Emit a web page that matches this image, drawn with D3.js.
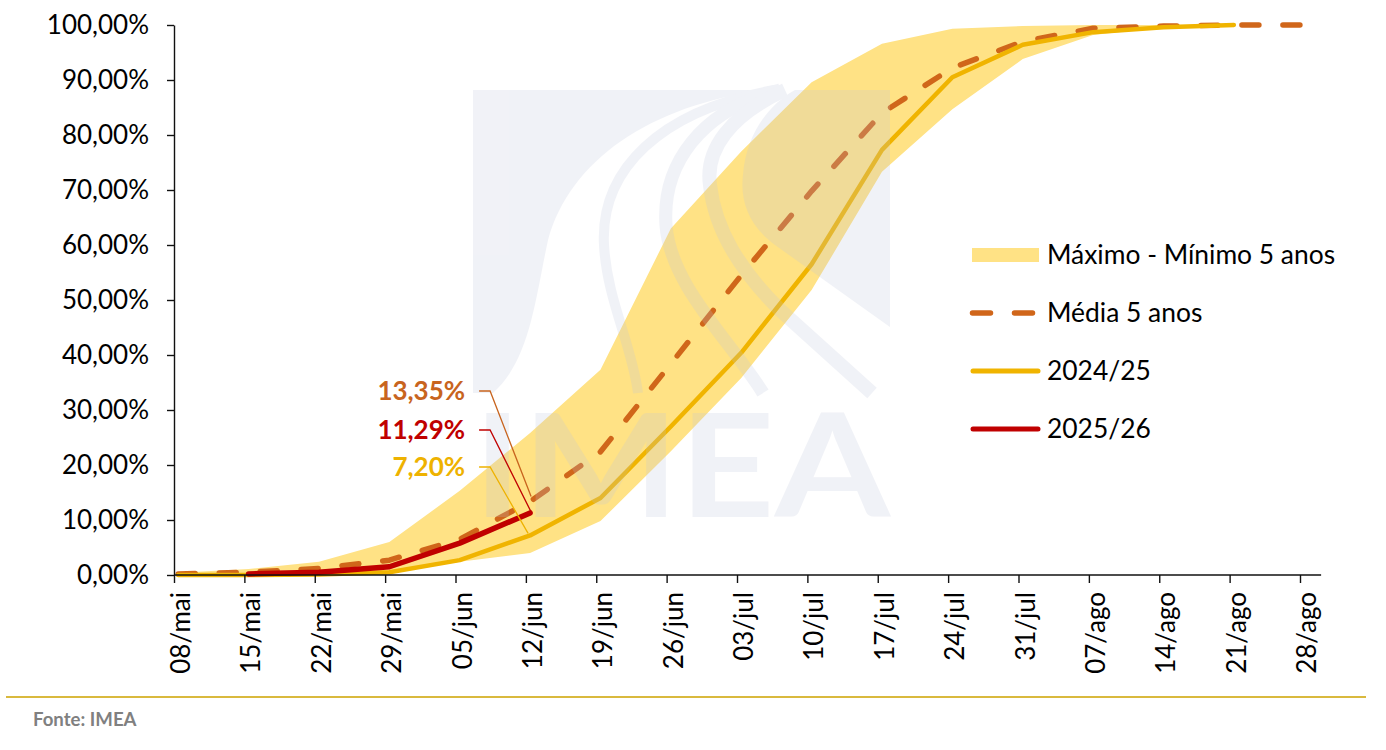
<!DOCTYPE html>
<html>
<head>
<meta charset="utf-8">
<script src="https://cdn.jsdelivr.net/npm/d3@7"></script>
<style>
  body { margin: 0; background: #fff; }
  svg { display: block; font-family: Lato, "Open Sans", sans-serif; }
</style>
</head>
<body>
<svg id="chart" width="1386" height="750"></svg>
<script>
// semanas
const categories = ['08/mai','15/mai','22/mai','29/mai','05/jun','12/jun','19/jun','26/jun',
  '03/jul','10/jul','17/jul','24/jul','31/jul','07/ago','14/ago','21/ago','28/ago'];

// faixa max - min 5 anos (ate 21/ago)
const bandMax = [0.4, 1.1, 2.4, 6.0, 15.3, 25.8, 37.3, 63.0, 77.0, 89.6, 96.6, 99.3, 99.8, 100, 100, 100];
const bandMin = [0, 0, 0, 0.3, 2.4, 4.0, 9.8, 22.5, 35.8, 51.8, 73.3, 84.7, 93.8, 98.2, 99.6, 100];

const media5 = [0.2, 0.5, 1.2, 2.7, 6.5, 13.35, 22.4, 38.4, 54.5, 69.8, 84.0, 92.2, 97.0, 99.4, 99.8, 100, 100];
const s2024 = [0, 0, 0.1, 0.5, 2.7, 7.20, 14.0, 27.0, 40.4, 56.5, 77.3, 90.5, 96.4, 98.7, 99.6, 100];
const s2025 = [null, 0.2, 0.5, 1.5, 5.8, 11.29];

const yTicks = [0, 10, 20, 30, 40, 50, 60, 70, 80, 90, 100];

const legendLabels = ['Máximo - Mínimo 5 anos', 'Média 5 anos', '2024/25', '2025/26'];
const colors = {band: '#FFE285', media: '#D0661A', s2024: '#F0B400', s2025: '#C00000'};

const svg = d3.select('#chart');
const x = d3.scalePoint().domain(categories).range([174, 1300]);
const y = d3.scaleLinear().domain([0, 100]).range([575, 25]);
// os pontos ficam meio dia a direita do tick (eixo de datas)
const xd = c => x(c) + x.step() * 0.06;
const fmt = v => v.toFixed(2).replace('.', ',') + '%';

// faixa
const area = d3.area()
  .x((d, i) => xd(categories[i]))
  .y0((d, i) => y(bandMin[i]))
  .y1(d => y(d));
svg.append('path').attr('d', area(bandMax)).attr('fill', colors.band);

const line = d3.line()
  .defined(d => d != null)
  .x((d, i) => xd(categories[i]))
  .y(d => y(d));

svg.append('path').attr('d', line(media5))
  .attr('fill', 'none').attr('stroke', colors.media).attr('stroke-width', 5.5)
  .attr('stroke-dasharray', '17,24').attr('stroke-linecap', 'round').attr('stroke-linejoin', 'round');
svg.append('path').attr('d', line(s2024))
  .attr('fill', 'none').attr('stroke', colors.s2024).attr('stroke-width', 4.5)
  .attr('stroke-linecap', 'round').attr('stroke-linejoin', 'round');
svg.append('path').attr('d', line(s2025))
  .attr('fill', 'none').attr('stroke', colors.s2025).attr('stroke-width', 5.5)
  .attr('stroke-linecap', 'round').attr('stroke-linejoin', 'round');

// marca d'agua IMEA por cima
const wm = svg.append('g').attr('fill', 'rgb(190,197,220)').attr('opacity', 0.22)
  .style('pointer-events', 'none');
const wmShapes = wm.append('g');
wmShapes.append('path')
  .attr('d', 'M473,90 L765,90 C650,105 570,160 548,240 C535,300 530,360 493,393 L473,393 Z');
wmShapes.append('path')
  .attr('d', 'M795,90 L890,90 L890,327 L775,245 C748,225 740,200 743,175 C746,135 768,105 795,90 Z');
const wmStrokes = [
  ['M775,90 C660,110 600,170 604,245 C607,300 632,345 638,393', 10],
  ['M780,90 C700,110 662,165 666,225 C670,285 730,340 763,393', 13],
  ['M785,90 C730,115 705,150 710,185 C715,230 740,270 780,310 L872,393', 14]
];
wmStrokes.forEach(s => {
  wmShapes.append('path').attr('d', s[0]).attr('fill', 'none')
    .attr('stroke', 'rgb(190,197,220)').attr('stroke-width', s[1]);
});
wm.append('text').attr('x', 473).attr('y', 517)
  .attr('font-size', 144).attr('font-weight', 'bold')
  .attr('textLength', 417).attr('lengthAdjust', 'spacingAndGlyphs')
  .text('IMEA');

// eixos
const yAxis = svg.append('g').attr('transform', `translate(${x(categories[0])},0)`)
  .call(d3.axisLeft(y).tickValues(yTicks).tickSize(7).tickSizeOuter(0).tickPadding(18).tickFormat(fmt));
yAxis.select('.domain').attr('stroke', '#111').attr('stroke-width', 1.4);
yAxis.selectAll('.tick line').attr('stroke', '#111').attr('stroke-width', 1.4);
yAxis.selectAll('text').attr('font-size', 26).attr('fill', '#000').attr('font-family', 'Lato');

const xAxis = svg.append('g').attr('transform', `translate(0,${y(0)})`)
  .call(d3.axisBottom(x).tickSize(8).tickSizeOuter(0));
xAxis.select('.domain').remove();
xAxis.append('line')
  .attr('x1', x(categories[0])).attr('x2', x(categories[categories.length - 1]) + x.step() * 0.3)
  .attr('stroke', '#111').attr('stroke-width', 1.4);
xAxis.selectAll('.tick line').attr('stroke', '#111').attr('stroke-width', 1.4);
xAxis.selectAll('text')
  .attr('font-size', 26).attr('fill', '#000').attr('font-family', 'Lato')
  .attr('x', -17).attr('y', 0).attr('dy', '0.6em')
  .attr('transform', 'rotate(-90)')
  .style('text-anchor', 'end');

// rotulos em 12/jun
const last = '12/jun';
const iLast = categories.indexOf(last);
const px = xd(last);
const notes = [
  {v: media5[iLast], color: '#C8641E', ty: 391, dx: 1, dy: -5},
  {v: s2025[iLast], color: '#C00000', ty: 430, dx: 1, dy: -1},
  {v: s2024[iLast], color: '#EEB200', ty: 467, dx: -2, dy: -2}
];
notes.forEach(n => {
  svg.append('path')
    .attr('d', `M${px - 51},${n.ty} L${px - 40},${n.ty} L${px + n.dx},${y(n.v) + n.dy}`)
    .attr('fill', 'none').attr('stroke', n.color).attr('stroke-width', 1.3);
  svg.append('text').attr('x', px - 65).attr('y', n.ty).attr('dy', '0.35em')
    .attr('text-anchor', 'end').attr('font-size', 26).attr('font-weight', 'bold')
    .attr('fill', n.color).text(fmt(n.v));
});

// legenda
const lg = svg.append('g');
const rowsY = [255, 313, 371, 429];
lg.append('rect').attr('x', 972).attr('y', rowsY[0] - 7).attr('width', 67).attr('height', 14)
  .attr('fill', colors.band);
lg.append('line').attr('x1', 972.5).attr('x2', 1033).attr('y1', rowsY[1]).attr('y2', rowsY[1])
  .attr('stroke', colors.media).attr('stroke-width', 5.5).attr('stroke-linecap', 'round')
  .attr('stroke-dasharray', '18,24');
lg.append('line').attr('x1', 973).attr('x2', 1038).attr('y1', rowsY[2]).attr('y2', rowsY[2])
  .attr('stroke', colors.s2024).attr('stroke-width', 5).attr('stroke-linecap', 'round');
lg.append('line').attr('x1', 973).attr('x2', 1038).attr('y1', rowsY[3]).attr('y2', rowsY[3])
  .attr('stroke', colors.s2025).attr('stroke-width', 5).attr('stroke-linecap', 'round');
legendLabels.forEach((t, i) => {
  lg.append('text').attr('x', 1047).attr('y', rowsY[i]).attr('dy', '0.35em')
    .attr('font-size', 26.4).attr('fill', '#000').text(t);
});

// rodape
svg.append('line').attr('x1', 6).attr('x2', 1366).attr('y1', 697).attr('y2', 697)
  .attr('stroke', '#D9B93E').attr('stroke-width', 2);
svg.append('text').attr('x', 33).attr('y', 726).attr('font-size', 18.6).attr('font-weight', 'bold')
  .attr('fill', '#808080').text('Fonte: IMEA');
</script>
</body>
</html>
